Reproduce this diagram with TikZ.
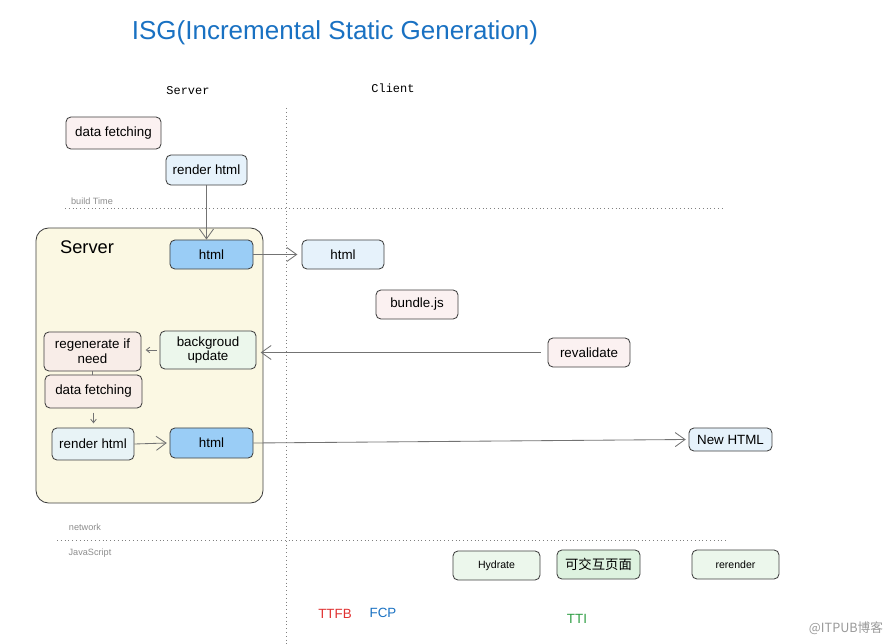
\documentclass[tikz,border=0pt]{standalone}
\usepackage{fontspec}
\setmainfont{Liberation Sans}
\setmonofont{Liberation Mono}
\newfontfamily\cjk{Noto Sans CJK SC}
\usetikzlibrary{arrows.meta}
\definecolor{titleblue}{HTML}{1971C2}
\definecolor{pinkfill}{HTML}{FBF1F1}
\definecolor{peachfill}{HTML}{F8EDE8}
\definecolor{bluefill}{HTML}{E6F2FB}
\definecolor{htmlblue}{HTML}{9ACDF6}
\definecolor{greenfill}{HTML}{ECF7EC}
\definecolor{greenmid}{HTML}{DDF2DF}
\definecolor{serverfill}{HTML}{FBF8E3}
\definecolor{ttfbred}{HTML}{E03131}
\definecolor{ttigreen}{HTML}{2F9E44}

\begin{document}
\begin{tikzpicture}
  [x=0.025cm,y=-0.025cm,
   box/.style={draw=black!75,line width=0.6pt,rounded corners=3.5pt,align=center,
     inner sep=1pt,font=\fontsize{9.5}{10.5}\selectfont},
   small/.style={box,font=\fontsize{7.5}{8.5}\selectfont},
   arr/.style={draw=black!55,line width=0.6pt,-{Straight Barb[length=7pt,width=10pt]}},
   sep/.style={draw=black!50,line width=0.7pt,dotted},
   note/.style={text=black!45,font=\fontsize{6.5}{7.5}\selectfont}]
  \useasboundingbox (0,0) rectangle (889,644);
  % headings
  \node[text=titleblue,font=\fontsize{18.5}{20}\selectfont] (title) at (335,33) {ISG(Incremental Static Generation)};
  \node[font=\ttfamily\fontsize{8.5}{10}\selectfont] (hserver) at (188,91) {Server};
  \node[font=\ttfamily\fontsize{8.5}{10}\selectfont] (hclient) at (393,88) {Client};
  % separators
  \draw[sep] (286,108) -- (286,644);
  \draw[sep] (65,208) -- (725,208);
  \draw[sep] (57,540) -- (728,540);
  \node[note] (tbuild) at (92,201) {build Time};
  \node[note] (tnet) at (85,527) {network};
  \node[note] (tjs) at (90,553) {JavaScript};
  % build time
  \node[box,fill=pinkfill,minimum width=2.375cm,minimum height=0.8cm] (df1) at (113.5,133) {data fetching};
  \node[box,fill=bluefill,minimum width=2.025cm,minimum height=0.75cm] (rh1) at (206.5,170) {render html};
  % server container
  \node[draw=black!75,line width=0.6pt,rounded corners=9pt,fill=serverfill,
        minimum width=5.675cm,minimum height=6.875cm] (srv) at (149.5,365.5) {};
  \node[font=\fontsize{13}{15}\selectfont] (tsrv) at (87,247) {Server};
  \node[box,fill=htmlblue,minimum width=2.075cm,minimum height=0.725cm] (html1) at (211.5,254.5) {html};
  \node[box,fill=greenfill,minimum width=2.4cm,minimum height=0.95cm] (bg) at (208,350) {backgroud\\update};
  \node[box,fill=peachfill,minimum width=2.425cm,minimum height=0.975cm] (regen) at (92.5,351.5) {regenerate if\\need};
  \node[box,fill=peachfill,minimum width=2.425cm,minimum height=0.825cm] (df2) at (93.5,391.5) {data fetching};
  \node[box,fill=bluefill!70!greenfill,minimum width=2.05cm,minimum height=0.8cm] (rh2) at (93,444) {render html};
  \node[box,fill=htmlblue,minimum width=2.075cm,minimum height=0.75cm] (html3) at (211.5,443) {html};
  % client
  \node[box,fill=bluefill,minimum width=2.05cm,minimum height=0.725cm] (html2) at (343,254.5) {html};
  \node[box,fill=pinkfill,minimum width=2.05cm,minimum height=0.725cm] (bundle) at (417,304.5) {bundle.js};
  \node[box,fill=pinkfill,minimum width=2.05cm,minimum height=0.725cm] (reval) at (589,352.5) {revalidate};
  \node[box,fill=bluefill,minimum width=2.075cm,minimum height=0.575cm] (newhtml) at (730.5,439.5) {New HTML};
  \node[small,fill=greenfill,minimum width=2.175cm,minimum height=0.725cm] (hydrate) at (496.5,565.5) {Hydrate};
  \node[box,fill=greenmid,minimum width=2.075cm,minimum height=0.725cm,font=\cjk\fontsize{9.5}{10.5}\selectfont] (inter) at (598.5,564.5) {可交互页面};
  \node[small,fill=greenfill,minimum width=2.175cm,minimum height=0.725cm] (rerender) at (735.5,564.5) {rerender};
  % metrics
  \node[text=ttfbred,font=\fontsize{9.5}{11}\selectfont] (ttfb) at (335,614) {TTFB};
  \node[text=titleblue,font=\fontsize{9.5}{11}\selectfont] (fcp) at (383,613) {FCP};
  \node[text=ttigreen,font=\fontsize{9.5}{11}\selectfont] (tti) at (577,619) {TTI};
  \node[text=black!40,font=\cjk\fontsize{9}{10}\selectfont] (mark) at (846,628) {@ITPUB博客};
  % connectors
  \draw[arr] (rh1.south) -- (rh1.south |- html1.north);
  \draw[arr] (html1.east) -- ([xshift=-3pt]html2.west);
  \draw[arr] ([xshift=-5pt]reval.west) -- ([xshift=3pt]reval.west -| bg.east);
  \draw[arr,-{Straight Barb[length=2.5pt,width=4pt]}] ([xshift=-2pt]bg.west) -- ([xshift=3pt]bg.west -| regen.east);
  \draw[draw=black!55,line width=0.6pt] (regen.south) -- (regen.south |- df2.north);
  \draw[arr,-{Straight Barb[length=2.5pt,width=4pt]},shorten <=3pt,shorten >=3pt] (df2.south) -- (df2.south |- rh2.north);
  \draw[arr] (rh2.east) -- ([xshift=-2pt]html3.west);
  \draw[arr] (html3.east) -- ([xshift=-2pt]newhtml.west);
\end{tikzpicture}
\end{document}
